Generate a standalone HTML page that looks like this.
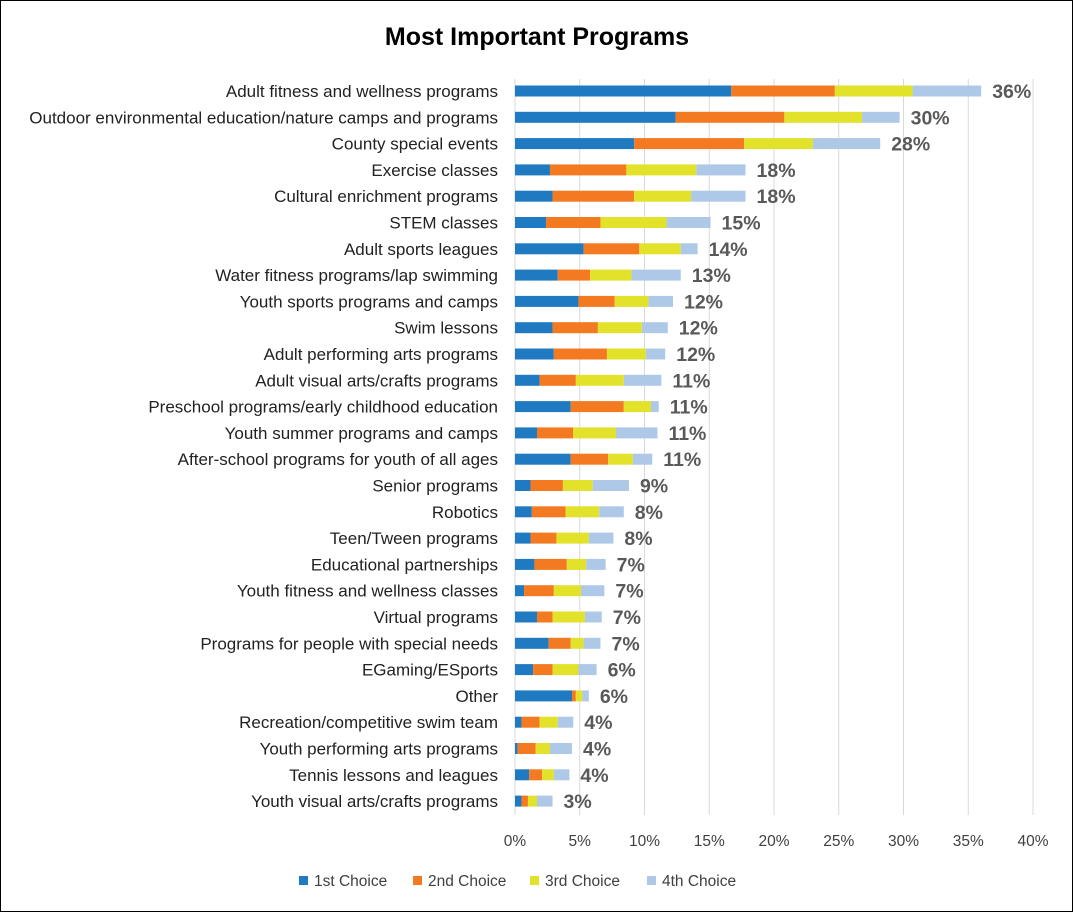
<!DOCTYPE html>
<html><head><meta charset="utf-8"><style>
body{margin:0;background:#fff;font-family:"Liberation Sans",sans-serif}
#wrap{position:relative;width:1071px;height:910px;border:1px solid #000;overflow:hidden}
</style></head><body>
<div id="wrap">
<svg id="chart" width="1071" height="910"></svg>
</div>
<script>
const categories=["Adult fitness and wellness programs","Outdoor environmental education/nature camps and programs","County special events","Exercise classes","Cultural enrichment programs","STEM classes","Adult sports leagues","Water fitness programs/lap swimming","Youth sports programs and camps","Swim lessons","Adult performing arts programs","Adult visual arts/crafts programs","Preschool programs/early childhood education","Youth summer programs and camps","After-school programs for youth of all ages","Senior programs","Robotics","Teen/Tween programs","Educational partnerships","Youth fitness and wellness classes","Virtual programs","Programs for people with special needs","EGaming/ESports","Other","Recreation/competitive swim team","Youth performing arts programs","Tennis lessons and leagues","Youth visual arts/crafts programs"];
const first=[16.7,12.4,9.2,2.7,2.9,2.4,5.3,3.3,4.9,2.9,3.0,1.9,4.3,1.7,4.3,1.2,1.3,1.2,1.5,0.7,1.7,2.6,1.4,4.4,0.5,0.2,1.1,0.5];
const second=[8.0,8.4,8.5,5.9,6.3,4.2,4.3,2.5,2.8,3.5,4.1,2.8,4.1,2.8,2.9,2.5,2.6,2.0,2.5,2.3,1.2,1.7,1.5,0.3,1.4,1.4,1.0,0.5];
const third=[6.0,6.0,5.3,5.4,4.4,5.1,3.2,3.2,2.6,3.4,3.0,3.7,2.1,3.3,1.9,2.3,2.6,2.5,1.5,2.1,2.5,1.0,2.0,0.5,1.4,1.1,0.9,0.7];
const fourth=[5.3,2.9,5.2,3.8,4.2,3.4,1.3,3.8,1.9,2.0,1.5,2.9,0.6,3.2,1.5,2.8,1.9,1.9,1.5,1.8,1.3,1.3,1.4,0.5,1.2,1.7,1.2,1.2];
const totals=["36%","30%","28%","18%","18%","15%","14%","13%","12%","12%","12%","11%","11%","11%","11%","9%","8%","8%","7%","7%","7%","7%","6%","6%","4%","4%","4%","3%"];
const ticks=[0,5,10,15,20,25,30,35,40];
const seriesNames=["1st Choice","2nd Choice","3rd Choice","4th Choice"];
const colors=["#1f7ac2","#f47a22","#e2e22a","#aec8e8"];
const NS="http://www.w3.org/2000/svg";
const svg=document.getElementById('chart');
function x(v){return 514+v*12.95;}
function y(i){return 90+i*26.3;}
function mk(t,a,txt){const e=document.createElementNS(NS,t);for(const k in a)e.setAttribute(k,a[k]);if(txt!==undefined)e.textContent=txt;svg.appendChild(e);return e;}
let e=mk('text',{x:536,y:44,'text-anchor':'middle','font-size':25,'font-weight':'bold',fill:'#000'},'Most Important Programs');


ticks.forEach(t=>{
 let g=mk('line',{x1:x(t),x2:x(t),y1:78,y2:814,stroke:'#d9d9d9','stroke-width':1});
 
 
 let l=mk('text',{x:x(t),y:845,'text-anchor':'middle','font-size':15.5,fill:'#404040'},t+'%');
 
 
});
const series=[first,second,third,fourth];
categories.forEach((c,i)=>{
 let l=mk('text',{x:497,y:y(i)+6,'text-anchor':'end','font-size':17,fill:'#222'},c);
 
 
 let acc=0;
 series.forEach((s,k)=>{
  let r=mk('rect',{x:x(acc),y:y(i)-5.5,width:Math.max(0,x(acc+s[i])-x(acc)),height:11,fill:colors[k]});
  
  
  acc+=s[i];
 });
 let t=mk('text',{x:x(acc)+11,y:y(i)+7,'font-size':19.5,'font-weight':'bold',fill:'#595959'},totals[i]);
 
 
});
let lx=[298,412,529,646];
seriesNames.forEach((n,k)=>{
 let r=mk('rect',{x:lx[k],y:875,width:9,height:9,fill:colors[k]});
 
 
 let t=mk('text',{x:lx[k]+15,y:885,'font-size':15.5,fill:'#404040'},n);
 
 
});
</script>
</body></html>
